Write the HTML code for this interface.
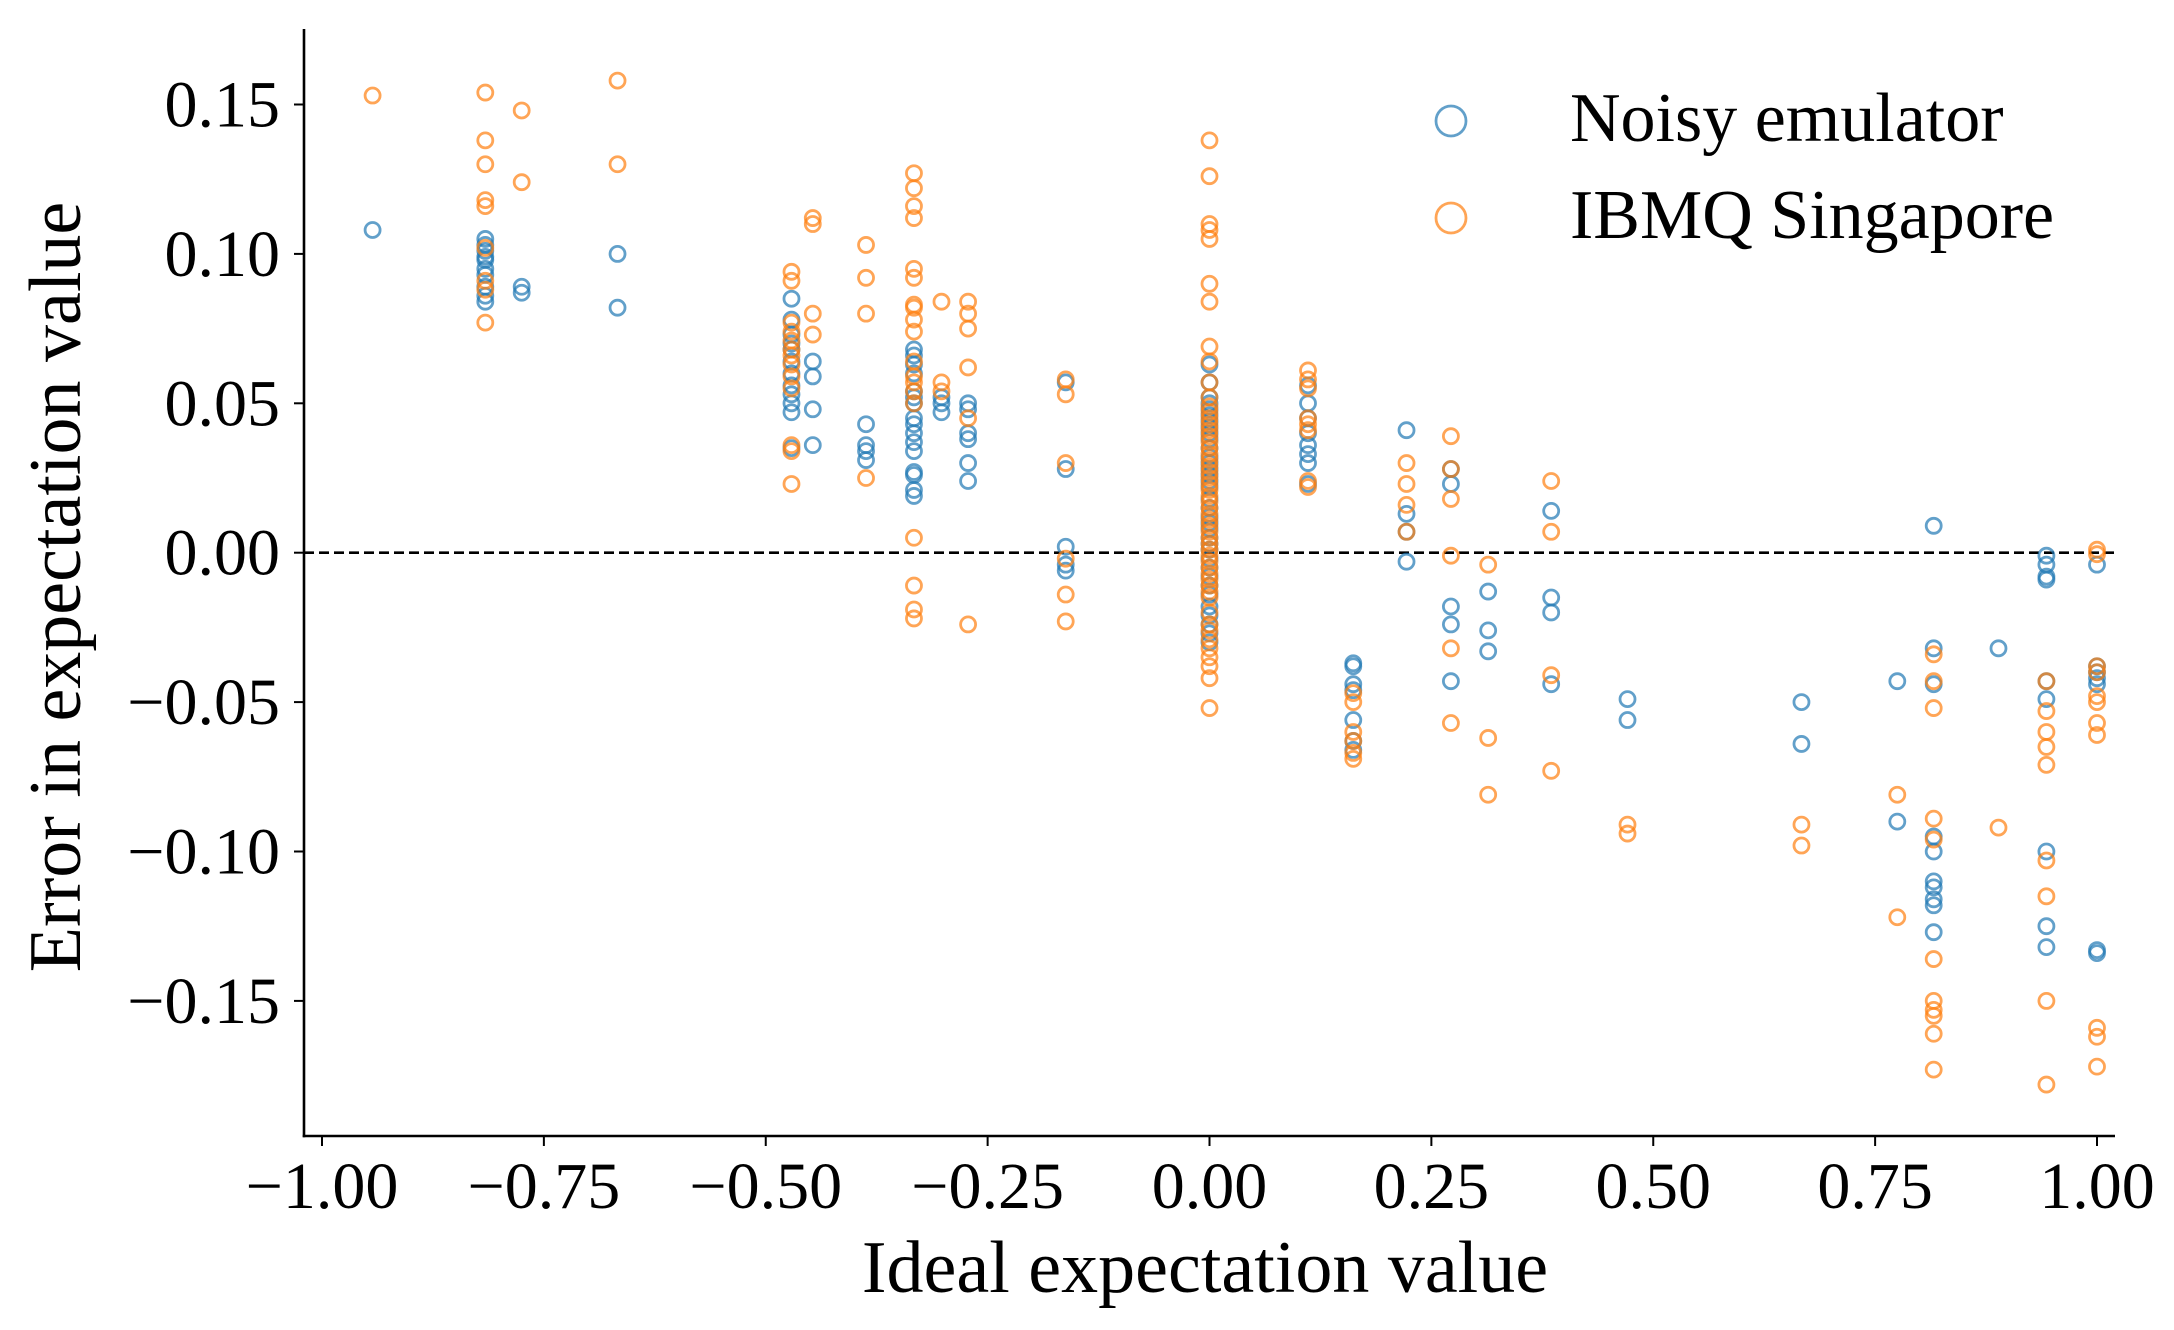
<!DOCTYPE html>
<html><head><meta charset="utf-8"><style>
html,body{margin:0;padding:0;background:#fff;}
svg{display:block;font-family:"Liberation Serif",serif;}
</style></head><body>
<svg id="chart" width="2174" height="1330" viewBox="0 0 2174 1330" xmlns="http://www.w3.org/2000/svg">
<g id="marks"></g>
<g id="axes"></g>
<g id="legend"></g>
</svg>
<script>
const xTicks=[-1,-0.75,-0.5,-0.25,0,0.25,0.5,0.75,1];
const xTickLabels=["\u22121.00","\u22120.75","\u22120.50","\u22120.25","0.00","0.25","0.50","0.75","1.00"];
const yTicks=[0.15,0.10,0.05,0,-0.05,-0.10,-0.15];
const yTickLabels=["0.15","0.10","0.05","0.00","\u22120.05","\u22120.10","\u22120.15"];
const blueCols=[
[-0.943,[0.108]],
[-0.816,[0.105,0.103,0.101,0.099,0.098,0.095,0.093,0.089,0.086,0.084]],
[-0.775,[0.089,0.087]],
[-0.667,[0.100,0.082]],
[-0.471,[0.085,0.078,0.073,0.070,0.068,0.064,0.060,0.056,0.053,0.050,0.047,0.035]],
[-0.447,[0.064,0.059,0.048,0.036]],
[-0.387,[0.043,0.036,0.034,0.031]],
[-0.333,[0.068,0.066,0.063,0.060,0.054,0.052,0.050,0.045,0.043,0.040,0.037,0.034,0.027,0.026,0.021,0.019]],
[-0.302,[0.052,0.050,0.047]],
[-0.272,[0.050,0.048,0.040,0.038,0.030,0.024]],
[-0.162,[0.057,0.028,0.002,-0.004,-0.006]],
[0,[0.063,0.057,0.052,0.050,0.048,0.046,0.044,0.042,0.040,0.038,0.035,0.032,0.030,0.028,0.026,0.024,0.022,0.018,0.015,0.012,0.010,0.008,0.005,0.003,0.001,-0.002,-0.005,-0.008,-0.011,-0.014,-0.018,-0.021,-0.024,-0.027,-0.030]],
[0.111,[0.056,0.050,0.045,0.040,0.036,0.033,0.030,0.023]],
[0.162,[-0.037,-0.038,-0.044,-0.046,-0.056,-0.063,-0.066]],
[0.222,[0.041,0.013,0.007,-0.003]],
[0.272,[0.028,0.023,-0.018,-0.024,-0.043]],
[0.314,[-0.013,-0.026,-0.033]],
[0.385,[0.014,-0.015,-0.020,-0.044]],
[0.471,[-0.049,-0.056]],
[0.667,[-0.050,-0.064]],
[0.775,[-0.043,-0.090]],
[0.816,[0.009,-0.032,-0.044,-0.095,-0.100,-0.110,-0.112,-0.116,-0.118,-0.127]],
[0.889,[-0.032]],
[0.943,[-0.001,-0.004,-0.008,-0.009,-0.043,-0.049,-0.100,-0.125,-0.132]],
[1.0,[-0.004,-0.038,-0.040,-0.042,-0.044,-0.133,-0.134]]
];
const orangeCols=[
[-0.943,[0.153]],
[-0.816,[0.154,0.138,0.130,0.118,0.116,0.102,0.091,0.088,0.077]],
[-0.775,[0.148,0.124]],
[-0.667,[0.158,0.130]],
[-0.471,[0.094,0.091,0.077,0.074,0.071,0.068,0.066,0.063,0.059,0.055,0.036,0.034,0.023]],
[-0.447,[0.112,0.110,0.080,0.073]],
[-0.387,[0.103,0.092,0.080,0.025]],
[-0.333,[0.127,0.122,0.116,0.112,0.095,0.092,0.083,0.082,0.078,0.074,0.064,0.059,0.057,0.054,0.050,0.005,-0.011,-0.019,-0.022]],
[-0.302,[0.084,0.057,0.054]],
[-0.272,[0.084,0.080,0.075,0.062,0.045,-0.024]],
[-0.162,[0.058,0.053,0.030,-0.002,-0.014,-0.023]],
[0,[0.138,0.126,0.110,0.108,0.105,0.090,0.084,0.069,0.064,0.057,0.052,0.049,0.047,0.045,0.043,0.041,0.039,0.037,0.035,0.033,0.031,0.029,0.027,0.025,0.023,0.021,0.019,0.017,0.015,0.013,0.011,0.009,0.007,0.005,0.003,0.001,-0.001,-0.003,-0.005,-0.007,-0.009,-0.011,-0.013,-0.015,-0.020,-0.024,-0.026,-0.029,-0.032,-0.035,-0.038,-0.042,-0.052]],
[0.111,[0.061,0.058,0.055,0.045,0.043,0.041,0.024,0.022]],
[0.162,[-0.047,-0.050,-0.060,-0.063,-0.067,-0.069]],
[0.222,[0.030,0.023,0.016,0.007]],
[0.272,[0.039,0.028,0.018,-0.001,-0.032,-0.057]],
[0.314,[-0.004,-0.062,-0.081]],
[0.385,[0.024,0.007,-0.041,-0.073]],
[0.471,[-0.091,-0.094]],
[0.667,[-0.091,-0.098]],
[0.775,[-0.081,-0.122]],
[0.816,[-0.034,-0.043,-0.052,-0.089,-0.096,-0.136,-0.150,-0.153,-0.155,-0.161,-0.173]],
[0.889,[-0.092]],
[0.943,[-0.043,-0.053,-0.060,-0.065,-0.071,-0.103,-0.115,-0.150,-0.178]],
[1.0,[0.001,-0.0005,-0.038,-0.040,-0.048,-0.050,-0.057,-0.061,-0.159,-0.162,-0.172]]
];
const NS="http://www.w3.org/2000/svg";
const L=304,R=2115,T=29,B=1136;
const X0=1209.5,XS=887.5;
const Y0=552.7,YS=2988;
function sx(v){return X0+v*XS;}
function sy(v){return Y0-v*YS;}
function mk(tag,attrs,parent){const e=document.createElementNS(NS,tag);for(const k in attrs)e.setAttribute(k,attrs[k]);parent.appendChild(e);return e;}
const marks=document.getElementById('marks'),axes=document.getElementById('axes'),legend=document.getElementById('legend');
const zl=mk('line',{x1:L,x2:R,y1:sy(0),y2:sy(0),stroke:'#000','stroke-width':2.6,'stroke-dasharray':'10,5'},marks);


function drawSeries(cols,color,name){
  const g=mk('g',{},marks);
  
  
  cols.forEach(c=>{c[1].forEach(v=>{
    const p=mk('circle',{cx:sx(c[0]),cy:sy(v),r:7.5,fill:'none',stroke:color,'stroke-width':2.8,'stroke-opacity':0.7},g);
    
    
  });});
}
drawSeries(blueCols,'#1f77b4','noisy-emulator');
drawSeries(orangeCols,'#ff7f0e','ibmq-singapore');
const ls=mk('line',{x1:L,x2:L,y1:T,y2:B+1.3,stroke:'#000','stroke-width':2.6},axes);


const bs=mk('line',{x1:L-1.3,x2:R,y1:B,y2:B,stroke:'#000','stroke-width':2.6},axes);


xTicks.forEach((t,i)=>{
  const x=sx(t);
  const tk=mk('line',{x1:x,x2:x,y1:B,y2:B+10,stroke:'#000','stroke-width':2},axes);
  
  
  const tx=mk('text',{x:x,y:1208,'text-anchor':'middle','font-size':66},axes);
  tx.textContent=xTickLabels[i];
  
  
});
yTicks.forEach((t,i)=>{
  const y=sy(t);
  const tk=mk('line',{x1:L-10,x2:L,y1:y,y2:y,stroke:'#000','stroke-width':2},axes);
  
  
  const tx=mk('text',{x:280,y:y+22,'text-anchor':'end','font-size':66},axes);
  tx.textContent=yTickLabels[i];
  
  
});
const xt=mk('text',{x:1205,y:1292,'text-anchor':'middle','font-size':74},axes);
xt.textContent='Ideal expectation value';


const yt=mk('text',{x:0,y:0,'text-anchor':'middle','font-size':74,transform:'translate(80,587) rotate(-90)'},axes);
yt.textContent='Error in expectation value';


const legItems=[['Noisy emulator','#1f77b4',121],['IBMQ Singapore','#ff7f0e',218]];
legItems.forEach(it=>{
  const c=mk('circle',{cx:1451,cy:it[2],r:15,fill:'none',stroke:it[1],'stroke-width':2.8,'stroke-opacity':0.7},legend);
  
  
  const t=mk('text',{x:1570,y:it[2]+20,'font-size':70},legend);
  t.textContent=it[0];
  
  
});
</script>
</body></html>
